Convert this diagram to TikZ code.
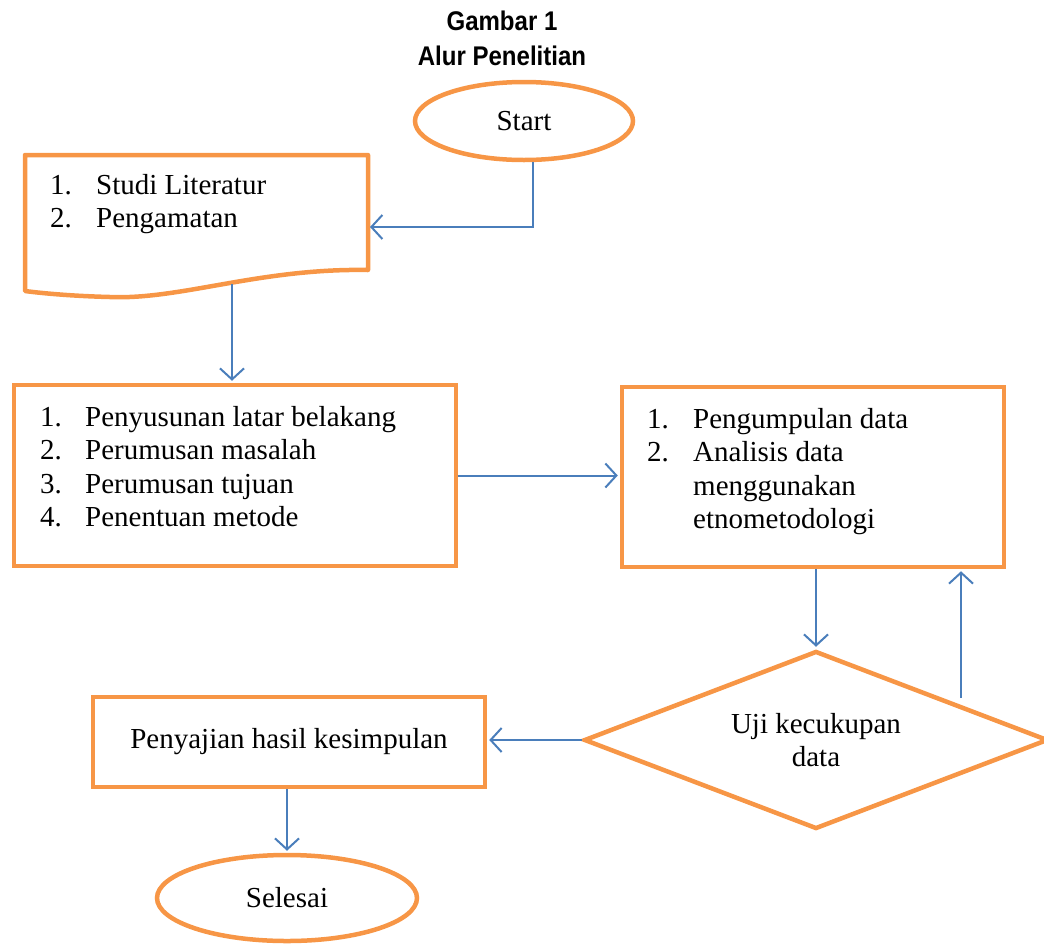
\documentclass[tikz,border=0pt]{standalone}
\usepackage{fontspec}
\setmainfont{Liberation Serif}
\newfontfamily\titlefont[FakeStretch=0.89]{Liberation Sans}
\usetikzlibrary{arrows.meta, calc, shapes.geometric}

\definecolor{boxorange}{HTML}{F79646}
\definecolor{lineblue}{HTML}{4A7EBB}

\begin{document}
\begin{tikzpicture}[x=1pt, y=-1pt, >={Straight Barb[length=11pt,width=24pt]},
  box/.style={draw=boxorange, line width=4.5pt, rectangle, inner sep=0pt},
  terminal/.style={draw=boxorange, line width=4.5pt, ellipse, inner sep=0pt},
  flow/.style={->, draw=lineblue, line width=2pt, shorten >=2pt},
  txt/.style={font=\fontsize{29}{33.6}\selectfont, inner sep=0pt}]

  \useasboundingbox (0,0) rectangle (1044,946);

  % Title
  \node[font=\titlefont\bfseries\fontsize{27}{35}\selectfont, align=center] (title) at (502,38) {Gambar 1\\Alur Penelitian};

  % Start
  \node[terminal, txt, minimum width=218pt, minimum height=78pt] (start) at (524,121) {Start};

  % Document shape (wavy bottom)
  \draw[boxorange, line width=4.5pt, line join=round]
    (25,155) -- (368,155) -- (368,270)
    .. controls (260,268) and (180,300) .. (110,297)
    .. controls (70,296) and (40,293) .. (25,291) -- cycle;
  \coordinate (docR) at (368,227);  % right side, arrow in
  \coordinate (docB) at (232,284);  % bottom, arrow out
  \node[txt, anchor=base west] (studi) at (50,194)
    {\begin{tabular}[t]{@{}p{46pt}@{}l@{}}1. & Studi Literatur\\2. & Pengamatan\end{tabular}};

  % Boxes
  \node[box, minimum width=442pt, minimum height=181pt] (plan) at (235,475.5) {};
  \node[txt, anchor=base west] (plantext) at (40,426)
    {\begin{tabular}[t]{@{}p{45pt}@{}l@{}}1. & Penyusunan latar belakang\\2. & Perumusan masalah\\3. & Perumusan tujuan\\4. & Penentuan metode\end{tabular}};

  \node[box, minimum width=382pt, minimum height=180pt] (collect) at (813,477) {};
  \node[txt, anchor=base west] (collecttext) at (647,428)
    {\begin{tabular}[t]{@{}p{46pt}@{}l@{}}1. & Pengumpulan data\\2. & Analisis data\\ & menggunakan\\ & etnometodologi\end{tabular}};

  \node[box, txt, minimum width=392pt, minimum height=90pt] (result) at (289,742) {Penyajian hasil kesimpulan};

  % Decision
  \node[diamond, aspect=2.6, draw=boxorange, line width=4.5pt, txt, align=center,
        minimum width=464pt, minimum height=178pt] (test) at (816,740) {Uji kecukupan\\data};

  % End
  \node[terminal, txt, minimum width=260pt, minimum height=86pt] (finish) at (287,898) {Selesai};

  % Connectors
  \draw[flow] ([xshift=9pt]start.south) |- (docR);
  \draw[flow] (docB) -- (docB |- plan.north);
  \draw[flow] (plan.east) -- (plan.east -| collect.west);
  \draw[flow] (collect.south -| test.north) -- (test.north);
  \coordinate (loopB) at (961,698);
  \draw[flow] (loopB) -- (loopB |- collect.south);
  \draw[flow] (test.west) -- (test.west -| result.east);
  \draw[flow] (result.south -| finish.north) -- (finish.north);

\end{tikzpicture}
\end{document}
